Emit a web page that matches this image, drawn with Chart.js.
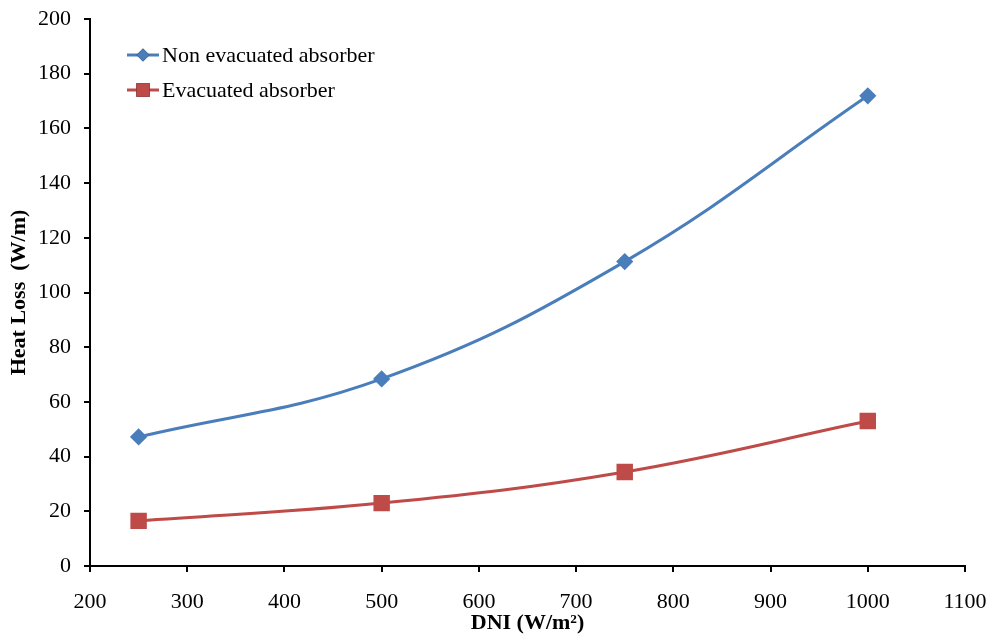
<!DOCTYPE html>
<html>
<head>
<meta charset="utf-8">
<script src="https://cdn.jsdelivr.net/npm/chart.js@4.4.1/dist/chart.umd.min.js"></script>
<style>
  html, body { margin: 0; padding: 0; background: #fff; }
  #wrap { width: 991px; height: 634px; }
</style>
</head>
<body>
<div id="wrap"><canvas id="chart" width="991" height="634"></canvas></div>
<script>
const dni = [250, 500, 750, 1000];
const nonEvacuated = [47.2, 68.4, 111.3, 171.9];
const evacuated = [16.5, 23.0, 34.4, 53.0];
const seriesNames = ['Non evacuated absorber', 'Evacuated absorber'];

const FONT = '"Liberation Serif", "Times New Roman", serif';
const BLUE = '#4A7EBB';
const RED = '#BE4B48';

// legend drawn inside the plot, Excel style (line with marker)
const insideLegend = {
    id: 'insideLegend',
    afterDraw(chart) {
        const ctx = chart.ctx;
        const rows = [55, 90];
        chart.data.datasets.forEach((ds, i) => {
            const y = rows[i];
            ctx.save();
            ctx.strokeStyle = ds.borderColor;
            ctx.lineWidth = 3;
            ctx.beginPath();
            ctx.moveTo(127, y);
            ctx.lineTo(159, y);
            ctx.stroke();
            Chart.helpers.drawPoint(ctx, {
                pointStyle: ds.pointStyle,
                radius: ds.pointRadius,
                borderWidth: 0
            }, 143, y);
            ctx.fillStyle = ds.pointBackgroundColor;
            ctx.fill();
            ctx.fillStyle = '#000';
            ctx.font = '22px ' + FONT;
            ctx.textBaseline = 'middle';
            ctx.fillText(ds.label, 162, y + 1);
            ctx.restore();
        });
    }
};

new Chart(document.getElementById('chart'), {
    type: 'line',
    data: {
        datasets: [{
            label: seriesNames[0],
            data: dni.map((x, i) => ({ x, y: nonEvacuated[i] })),
            borderColor: BLUE,
            backgroundColor: BLUE,
            pointBackgroundColor: BLUE,
            pointBorderColor: BLUE,
            pointStyle: 'rectRot',
            pointRadius: 6.5,
            borderWidth: 3,
            tension: 0.4
        }, {
            label: seriesNames[1],
            data: dni.map((x, i) => ({ x, y: evacuated[i] })),
            borderColor: RED,
            backgroundColor: RED,
            pointBackgroundColor: RED,
            pointBorderColor: RED,
            pointStyle: 'rect',
            pointRadius: 9.5,
            borderWidth: 3,
            tension: 0.4
        }]
    },
    options: {
        responsive: false,
        animation: false,
        layout: { padding: { top: 19, right: 26, bottom: 0, left: 0 } },
        plugins: {
            legend: { display: false },
            tooltip: { enabled: false }
        },
        scales: {
            x: {
                type: 'linear',
                min: 200,
                max: 1100,
                ticks: {
                    stepSize: 100, color: '#000', font: { family: FONT, size: 22 }, padding: 17, maxRotation: 0,
                    callback: v => String(v)
                },
                grid: { drawOnChartArea: false, color: '#000', tickLength: 6, lineWidth: 2 },
                border: { color: '#000', width: 2 },
                title: { display: true, text: 'DNI (W/m²)', color: '#000', font: { family: FONT, size: 22, weight: 'bold' }, padding: { top: 0, bottom: -3 } },
                afterFit(scale) {
                    scale.height = 68;
                    scale.paddingLeft = 0;
                    scale.paddingRight = 0;
                }
            },
            y: {
                min: 0,
                max: 200,
                ticks: { stepSize: 20, color: '#000', font: { family: FONT, size: 22 }, padding: 13 },
                grid: { drawOnChartArea: false, color: '#000', tickLength: 6, lineWidth: 2 },
                border: { color: '#000', width: 2 },
                title: { display: true, text: 'Heat Loss  (W/m)', color: '#000', font: { family: FONT, size: 22, weight: 'bold' }, padding: { top: 6, bottom: 0 } },
                afterFit(scale) {
                    scale.width = 90;
                    scale.paddingTop = 0;
                    scale.paddingBottom = 0;
                }
            }
        }
    },
    plugins: [insideLegend]
});
</script>
</body>
</html>
